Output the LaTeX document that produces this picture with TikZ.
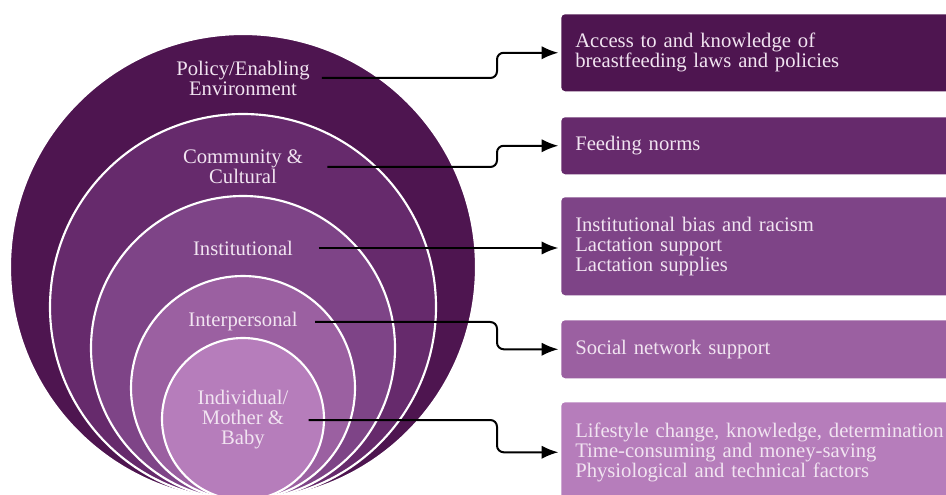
\documentclass[tikz,border=0pt]{standalone}
\usepackage{fontspec}
\setmainfont{Liberation Serif}
\usetikzlibrary{arrows.meta,positioning}

\definecolor{plumA}{HTML}{4E1550}
\definecolor{plumB}{HTML}{662A6C}
\definecolor{plumC}{HTML}{7E4487}
\definecolor{plumD}{HTML}{9B60A1}
\definecolor{plumE}{HTML}{B67DBB}
\definecolor{lilac}{HTML}{F1E4F1}

\begin{document}
\begin{tikzpicture}[
    x=0.75pt, y=-0.75pt,
    ring/.style={draw=white, line width=1.6pt},
    level/.style={font=\fontsize{15.5}{15}\selectfont, text=lilac, align=center, inner sep=0pt},
    factor/.style={anchor=north west, rounded corners=3pt, text=lilac, align=left,
      font=\fontsize{15.5}{15}\selectfont, text width=300pt, inner xsep=10.5pt, inner ysep=0pt},
    link/.style={-{Latex[length=12.5pt, width=10pt]}, line width=1.5pt, rounded corners=5pt, shorten >=2pt}
  ]
  \useasboundingbox (0,0) rectangle (946,495);
  \clip (0,0) rectangle (946,495);

  % Nested circles, all touching at the bottom
  \foreach \r/\c in {233/plumA, 193/plumB, 152/plumC, 112/plumD, 81/plumE}
    \filldraw[ring, fill=\c] (243,500-\r) circle [radius=0.75*\r pt];

  % Levels
  \node[level] (pol) at (243,78)  {Policy/Enabling\\Environment};
  \node[level] (com) at (243,167) {Community \&\\Cultural};
  \node[level] (ins) at (243,248) {Institutional};
  \node[level] (int) at (243,322) {Interpersonal};
  \node[level] (ind) at (243,420) {Individual/\\Mother \&\\Baby};

  % Factors
  \node[factor, fill=plumA, minimum height=57.75pt] (acc) at (561,14)
    {Access to and knowledge of\\breastfeeding laws and policies};
  \node[factor, fill=plumB, minimum height=42.75pt] (nrm) at (561,117)
    {Feeding norms};
  \node[factor, fill=plumC, minimum height=73.5pt] (sup) at (561,197)
    {Institutional bias and racism\\Lactation support\\Lactation supplies};
  \node[factor, fill=plumD, minimum height=43.5pt] (net) at (561,320)
    {Social network support};
  \node[factor, fill=plumE, minimum height=75pt] (lif) at (561,402)
    {Lifestyle change, knowledge, determination\\Time-consuming and money-saving\\Physiological and technical factors};

  % Arrows
  \coordinate (bend) at (497,0);
  \draw[link] ([xshift=9pt]pol.east) -- (bend |- pol.east) |- (acc.west);
  \draw[link] ([xshift=18pt]com.east) -- (bend |- com.east) |- (nrm.west);
  \draw[link] ([xshift=19pt]ins.east) -- (sup.west |- ins.east);
  \draw[link] ([xshift=13pt]int.east) -- (bend |- int.east) |- (net.west);
  \draw[link] ([xshift=15pt]ind.east) -- (bend |- ind.east) |- (lif.west);
\end{tikzpicture}
\end{document}
